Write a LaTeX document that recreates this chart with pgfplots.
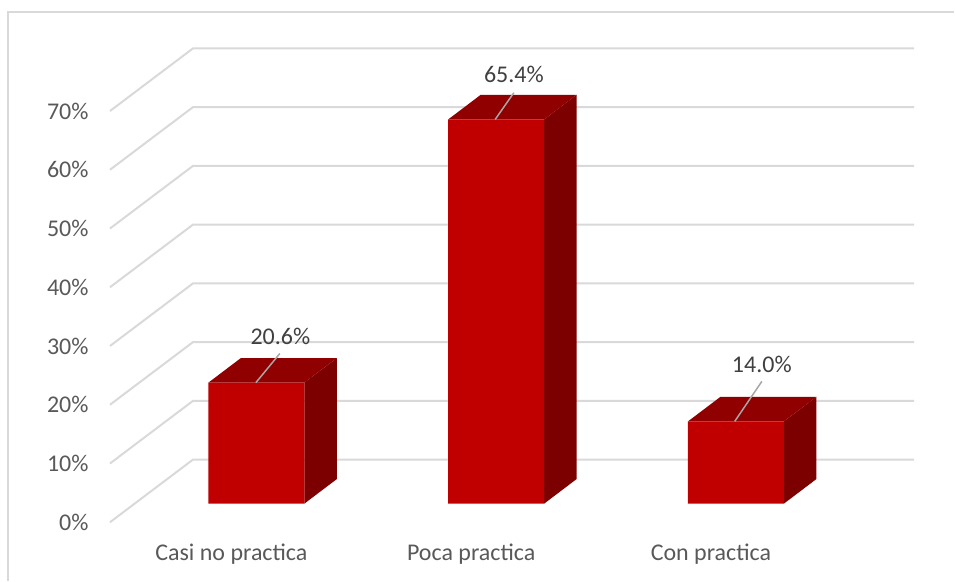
\documentclass[border=0pt]{standalone}
\usepackage{pgfplots}
\usepackage{pgfplotstable}
\usepackage{fontspec}
\setmainfont{Carlito}
\pgfplotsset{compat=1.18}
\definecolor{gridgray}{HTML}{D9D9D9}
\definecolor{front}{HTML}{C00000}
\definecolor{topface}{HTML}{900000}
\definecolor{sideface}{HTML}{7C0000}
\definecolor{ticktext}{HTML}{595959}
\definecolor{valtext}{HTML}{404040}
\definecolor{leader}{HTML}{A6A6A6}

\pgfplotstableread{
x value
0 20.6
1 65.4
2 14.0
}\bars

% One box of the 3D column: top and side faces, offset by the chart's depth
\newcommand{\boxfaces}[2]{%
  \addplot[fill=sideface,draw=none] coordinates {(#1+0.2,0) (#1+0.3354,4.18) (#1+0.3354,#2+4.18) (#1+0.2,#2)} -- cycle;
  \addplot[fill=topface,draw=none] coordinates {(#1-0.2,#2) (#1+0.2,#2) (#1+0.3354,#2+4.18) (#1-0.0646,#2+4.18)} -- cycle;
}
\newcommand{\wall}[1]{%
  \addplot[gridgray,line width=2pt] coordinates {(110,#1) (193,#1+10.65) (915,#1+10.65)};
}

\begin{document}
\begin{tikzpicture}[x=1pt,y=1pt]
% Floor and wall gridlines, with the percentage scale
\begin{axis}[
  at={(0,0)},anchor=south west,
  scale only axis,width=955pt,height=581pt,
  xmin=0,xmax=955,ymin=-9.93,ymax=88.88,
  axis line style={draw=none},
  major tick length=0pt,
  xtick=\empty,
  ytick={0,10,20,30,40,50,60,70},
  yticklabels={0\%,10\%,20\%,30\%,40\%,50\%,60\%,70\%},
  y tick label style={anchor=east,xshift=92pt,text=ticktext,font=\fontsize{24}{28}\selectfont},
  clip=false,
]
\addplot[gridgray,line width=1.6pt] coordinates {(8,-9.93) (8,86.83) (955,86.83)};
\wall{0}\wall{10}\wall{20}\wall{30}\wall{40}\wall{50}\wall{60}\wall{70}
\end{axis}
% Columns, drawn in the plane of their own base
\begin{axis}[
  at={(0,0)},anchor=south west,
  scale only axis,width=955pt,height=581pt,
  xmin=-1.0688,xmax=2.9104,ymin=-13.09,ymax=85.71,
  axis line style={draw=none},
  major tick length=0pt,
  ytick=\empty,
  xtick={0,1,2},
  xticklabels={Casi no practica,Poca practica,Con practica},
  x tick label style={yshift=40pt,xshift=-25pt,text=ticktext,font=\fontsize{24}{28}\selectfont},
  clip=false,
  bar width=0.4,
]
\boxfaces{0}{20.6}
\boxfaces{1}{65.4}
\boxfaces{2}{14.0}
\addplot[ybar,fill=front,draw=none,bar shift=0pt] table[x=x,y=value] {\bars};
% Leader lines and value labels
\addplot[leader,line width=1.5pt] coordinates {(-0.002,20.6) (0.098,25.56)};
\addplot[leader,line width=1.5pt] coordinates {(0.996,65.4) (1.074,69.95)};
\addplot[leader,line width=1.5pt] coordinates {(1.995,14.0) (2.108,20.8)};
\node[text=valtext,font=\fontsize{24}{28}\selectfont] at (axis cs:0.1,28.45) {20.6\%};
\node[text=valtext,font=\fontsize{24}{28}\selectfont] at (axis cs:1.074,73.0) {65.4\%};
\node[text=valtext,font=\fontsize{24}{28}\selectfont] at (axis cs:2.108,23.69) {14.0\%};
\end{axis}
\end{tikzpicture}
\end{document}
